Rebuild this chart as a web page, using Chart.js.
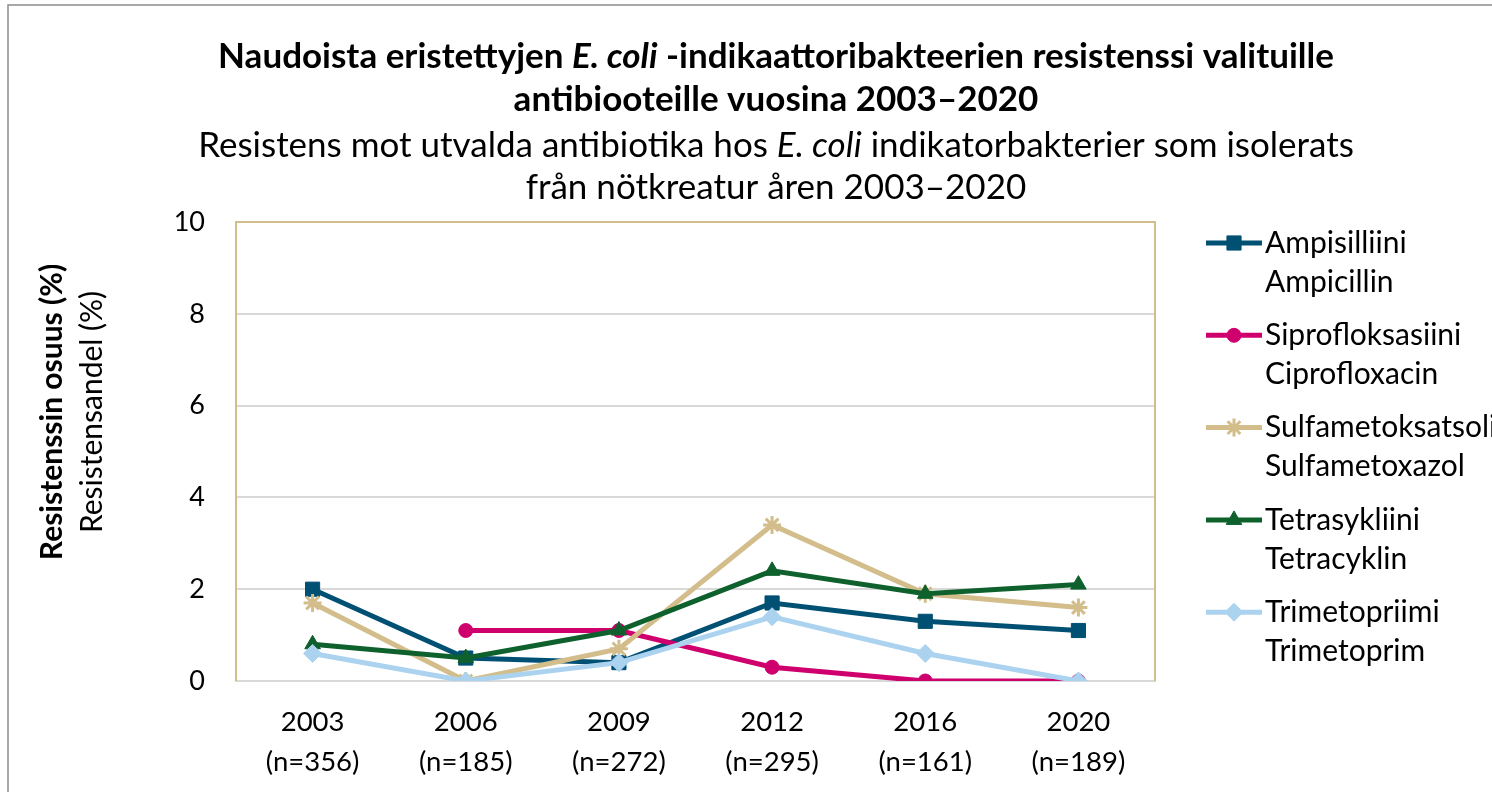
<!DOCTYPE html>
<html>
<head>
<meta charset="utf-8">
<script src="https://cdn.jsdelivr.net/npm/chart.js@4.4.1/dist/chart.umd.min.js"></script>
<style>
  html, body { margin: 0; padding: 0; background: #fff; }
  #wrap { position: relative; width: 1492px; height: 792px; }
</style>
</head>
<body>
<div id="wrap"><canvas id="c1" width="1492" height="792"></canvas></div>
<script>
// years and sample sizes
var years = ['2003', '2006', '2009', '2012', '2016', '2020'];
var nSizes = ['(n=356)', '(n=185)', '(n=272)', '(n=295)', '(n=161)', '(n=189)'];

// resistance %
var ampisilliini = [2.0, 0.5, 0.4, 1.7, 1.3, 1.1];
var siprofloksasiini = [null, 1.1, 1.1, 0.3, 0, 0];
var sulfametoksatsoli = [1.7, 0, 0.7, 3.4, 1.9, 1.6];
var tetrasykliini = [0.8, 0.5, 1.1, 2.4, 1.9, 2.1];
var trimetopriimi = [0.6, 0, 0.4, 1.4, 0.6, 0];

var yTicks = [0, 2, 4, 6, 8, 10];

var legendNames = [
  ['Ampisilliini', 'Ampicillin'],
  ['Siprofloksasiini', 'Ciprofloxacin'],
  ['Sulfametoksatsoli', 'Sulfametoxazol'],
  ['Tetrasykliini', 'Tetracyklin'],
  ['Trimetopriimi', 'Trimetoprim']
];

var FONT = 'Lato, "Open Sans", sans-serif';

var labels = [];
for (var i = 0; i < years.length; i++) {
  labels.push([years[i], nSizes[i]]);
}

function ds(idx, data, color, style, r) {
  return {
    label: legendNames[idx].join(' '),
    data: data,
    borderColor: color,
    backgroundColor: color,
    pointBackgroundColor: color,
    pointBorderColor: color,
    borderWidth: 5,
    pointStyle: style,
    pointRadius: r,
    pointBorderWidth: style == 'star' ? 3 : 1,
    tension: 0,
    spanGaps: false,
    order: 4 - idx // later series on top, like the original
  };
}

// title lines, drawn with mixed italic parts
var titleLines = [
  { y: 57, size: 35, weight: 'bold', parts: [['Naudoista eristettyjen ', 0], ['E. coli', 1], [' -indikaattoribakteerien resistenssi valituille', 0]] },
  { y: 100, size: 35, weight: 'bold', parts: [['antibiooteille vuosina 2003\u20132020', 0]] },
  { y: 146, size: 35, weight: 'normal', parts: [['Resistens mot utvalda antibiotika hos ', 0], ['E. coli', 1], [' indikatorbakterier som isolerats', 0]] },
  { y: 188, size: 35, weight: 'normal', parts: [['fr\u00e5n n\u00f6tkreatur \u00e5ren 2003\u20132020', 0]] }
];

var extras = {
  id: 'extras',
  beforeDraw: function(chart) {
    var ctx = chart.ctx;
    ctx.save();
    // outer frame
    ctx.strokeStyle = '#8c8c8c';
    ctx.lineWidth = 1.5;
    ctx.beginPath();
    ctx.moveTo(8, 792);
    ctx.lineTo(8, 5);
    ctx.lineTo(1492, 5);
    ctx.stroke();

    // title
    ctx.fillStyle = '#000';
    ctx.textBaseline = 'middle';
    ctx.textAlign = 'left';
    titleLines.forEach(function(l) {
      var w = 0;
      l.parts.forEach(function(p) {
        ctx.font = (p[1] ? 'italic ' : '') + l.weight + ' ' + l.size + 'px ' + FONT;
        w += ctx.measureText(p[0]).width;
      });
      var x = 776 - w / 2;
      l.parts.forEach(function(p) {
        ctx.font = (p[1] ? 'italic ' : '') + l.weight + ' ' + l.size + 'px ' + FONT;
        ctx.fillText(p[0], x, l.y);
        x += ctx.measureText(p[0]).width;
      });
    });

    // y axis title
    ctx.translate(52, 412);
    ctx.rotate(-Math.PI / 2);
    ctx.textAlign = 'center';
    ctx.font = 'bold 30px ' + FONT;
    ctx.fillText('Resistenssin osuus (%)', 0, 0);
    ctx.font = 'normal 30px ' + FONT;
    ctx.fillText('Resistensandel (%)', 0, 40);
    ctx.restore();
  },
  beforeDatasetsDraw: function(chart) {
    var a = chart.chartArea, ctx = chart.ctx;
    ctx.save();
    ctx.strokeStyle = '#d2bd8b';
    ctx.lineWidth = 2;
    ctx.beginPath();
    ctx.moveTo(a.left, a.bottom);
    ctx.lineTo(a.left, a.top);
    ctx.lineTo(a.right, a.top);
    ctx.lineTo(a.right, a.bottom);
    ctx.stroke();
    ctx.restore();
  },
  afterDraw: function(chart) {
    // legend on the right, two lines per item
    var ctx = chart.ctx;
    ctx.save();
    var y0 = 243, step = 92.3;
    chart.data.datasets.forEach(function(d, i) {
      var y = y0 + i * step;
      ctx.strokeStyle = d.borderColor;
      ctx.fillStyle = d.borderColor;
      ctx.lineWidth = 5;
      ctx.beginPath();
      ctx.moveTo(1206, y);
      ctx.lineTo(1262, y);
      ctx.stroke();
      ctx.lineWidth = d.pointBorderWidth;
      Chart.helpers.drawPoint(ctx, { pointStyle: d.pointStyle, radius: d.pointRadius, borderWidth: d.pointBorderWidth, rotation: 0 }, 1234, y);
      ctx.fillStyle = '#000';
      ctx.font = '30px ' + FONT;
      ctx.textBaseline = 'middle';
      ctx.textAlign = 'left';
      ctx.fillText(legendNames[i][0], 1265, y);
      ctx.fillText(legendNames[i][1], 1265, y + 39);
    });
    ctx.restore();
  }
};

var ctx = document.getElementById('c1').getContext('2d');
var chart1 = new Chart(ctx, {
  type: 'line',
  data: {
    labels: labels,
    datasets: [
      ds(0, ampisilliini, '#005073', 'rect', 10),
      ds(1, siprofloksasiini, '#cf006e', 'circle', 7),
      ds(2, sulfametoksatsoli, '#d2bd8b', 'star', 9),
      ds(3, tetrasykliini, '#0e612d', 'triangle', 9),
      ds(4, trimetopriimi, '#abd3ef', 'rectRot', 9)
    ]
  },
  options: {
    responsive: false,
    animation: false,
    layout: { padding: { top: 222, right: 337, bottom: 0, left: 0 } },
    plugins: {
      legend: { display: false },
      title: { display: false },
      tooltip: { enabled: false }
    },
    scales: {
      x: {
        offset: true,
        grid: { display: false, drawTicks: false },
        border: { display: true, color: '#d9d9d9', width: 2 },
        ticks: { color: '#000', font: { family: FONT, size: 27.5, lineHeight: 40 / 27.5 }, padding: 21, maxRotation: 0 },
        afterFit: function(s) { s.height = 111; }
      },
      y: {
        min: 0,
        max: 10,
        afterBuildTicks: function(s) { s.ticks = yTicks.map(function(v) { return { value: v }; }); },
        grid: { color: '#d9d9d9', lineWidth: 2, drawTicks: false },
        border: { display: false },
        ticks: { color: '#000', font: { family: FONT, size: 27 }, padding: 31 },
        afterFit: function(s) { s.width = 236; }
      }
    }
  },
  plugins: [extras]
});
</script>
</body>
</html>
